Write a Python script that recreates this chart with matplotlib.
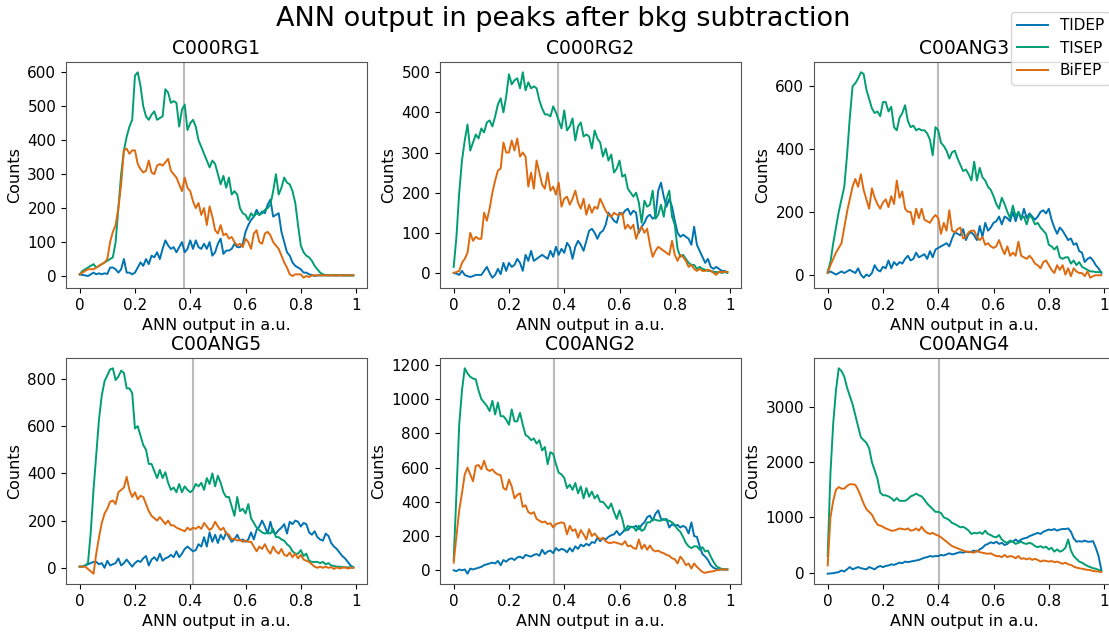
import numpy as np
import matplotlib
matplotlib.use("Agg")
import matplotlib.pyplot as plt

# bin centres of the ANN output histogram
ann = np.arange(100) / 100.0

# ---- C000RG1 ----
rg1_dep = [5, 3, 2, 0, 5, 10, 5, 8, 5, 8,
           6, 25, 25, 20, 10, 20, 50, 10, 10, 5,
           10, 25, 40, 30, 50, 35, 60, 55, 70, 50,
           80, 105, 90, 80, 85, 70, 85, 100, 70, 80,
           105, 80, 105, 85, 80, 95, 80, 100, 60, 70,
           95, 110, 65, 75, 75, 80, 95, 85, 85, 95,
           130, 150, 165, 175, 195, 180, 190, 185, 210, 225,
           175, 180, 185, 130, 100, 70, 60, 40, 30, 25,
           20, 10, 10, 5, 3, 0, 2, 2, 2, 2,
           2, 2, 2, 2, 2, 2, 2, 2, 2, 2]
rg1_sep = [5, 15, 20, 25, 30, 35, 25, 30, 35, 40,
           45, 50, 55, 100, 200, 300, 370, 410, 440, 460,
           590, 600, 560, 500, 470, 460, 475, 485, 460, 465,
           470, 550, 540, 510, 515, 510, 440, 490, 505, 430,
           450, 460, 440, 400, 380, 360, 340, 320, 340, 330,
           300, 270, 295, 260, 290, 240, 250, 240, 200, 185,
           180, 165, 185, 175, 185, 180, 185, 195, 200, 210,
           250, 300, 240, 260, 290, 275, 270, 250, 215, 150,
           90, 70, 60, 55, 45, 30, 20, 10, 5, 3,
           2, 3, 2, 2, 3, 2, 2, 2, 2, 2]
rg1_fep = [5, 10, 15, 20, 20, 20, 25, 30, 35, 40,
           50, 100, 130, 150, 200, 270, 370, 375, 360, 370,
           370, 330, 315, 305, 310, 340, 305, 300, 325, 330,
           325, 335, 345, 310, 300, 290, 270, 250, 290, 260,
           250, 220, 200, 215, 180, 200, 150, 205, 175, 135,
           125, 150, 120, 125, 110, 115, 100, 90, 95, 85,
           110, 100, 80, 125, 135, 100, 95, 125, 130, 120,
           100, 90, 80, 60, 40, 25, 5, 0, 5, 5,
           5, -5, 0, -3, 2, 2, 2, 2, 2, 2,
           2, 2, 2, 2, 2, 2, 2, 2, 2, 2]

# ---- C000RG2 ----
rg2_dep = [0, -2, -5, 5, -5, -8, -10, -8, -5, -5,
           -5, 5, 15, 0, -12, -5, 10, -3, 25, 5,
           25, 15, 20, 35, 25, 5, 45, 30, 55, 30,
           35, 40, 45, 40, 35, 55, 40, 65, 45, 60,
           50, 75, 65, 35, 65, 80, 70, 55, 80, 105,
           110, 100, 85, 100, 105, 120, 150, 140, 130, 125,
           150, 145, 155, 160, 145, 155, 150, 100, 115, 125,
           140, 145, 135, 140, 205, 225, 190, 165, 185, 165,
           130, 100, 90, 95, 90, 85, 70, 115, 70, 55,
           40, 25, 35, 15, 10, 15, 10, 5, 5, 2]
rg2_sep = [15, 90, 200, 280, 330, 370, 305, 325, 345, 335,
           360, 350, 375, 380, 365, 390, 420, 435, 400, 440,
           495, 470, 480, 485, 460, 500, 455, 475, 460, 465,
           460, 430, 410, 395, 395, 390, 415, 400, 380, 360,
           405, 355, 365, 385, 330, 365, 375, 340, 345, 340,
           310, 355, 335, 325, 290, 310, 280, 295, 250, 260,
           280, 240, 245, 210, 200, 190, 200, 175, 125, 180,
           165, 170, 205, 135, 145, 170, 140, 185, 205, 140,
           120, 60, 40, 45, 35, 25, 20, 20, 10, 15,
           10, 8, 5, 5, 3, 2, 2, 0, 2, 0]
rg2_fep = [0, 2, 5, 25, 35, 50, 100, 80, 90, 85,
           85, 150, 130, 160, 200, 230, 255, 260, 325, 300,
           300, 330, 305, 335, 290, 300, 290, 215, 250, 210,
           280, 250, 220, 210, 250, 205, 215, 195, 225, 165,
           185, 190, 170, 185, 205, 175, 160, 185, 145, 170,
           150, 165, 160, 185, 170, 155, 145, 140, 150, 145,
           145, 150, 110, 120, 110, 120, 85, 105, 115, 100,
           110, 70, 40, 55, 65, 60, 55, 50, 45, 80,
           45, 30, 45, 40, 30, 15, 20, 10, 5, 10,
           5, 5, 8, 5, 0, -5, 3, 2, 3, 2]

# ---- C00ANG3 ----
ang3_dep = [5, 10, 5, 0, 5, 10, 5, 10, 15, 10,
            5, 20, 0, -10, 0, -5, 5, 30, 15, 10,
            25, 20, 45, 20, 40, 30, 40, 35, 50, 60,
            45, 50, 70, 55, 60, 65, 50, 75, 55, 80,
            85, 90, 95, 100, 90, 115, 135, 130, 125, 145,
            110, 130, 135, 125, 110, 155, 120, 165, 140, 150,
            165, 170, 185, 160, 185, 180, 170, 200, 170, 200,
            175, 210, 180, 195, 185, 175, 185, 200, 205, 195,
            210, 175, 150, 130, 150, 140, 125, 110, 115, 95,
            100, 75, 70, 40, 50, 55, 45, 30, 20, 5]
ang3_sep = [10, 40, 100, 150, 200, 240, 280, 380, 500, 600,
            610, 625, 645, 640, 590, 560, 530, 515, 520, 505,
            550, 550, 520, 535, 470, 460, 500, 515, 540, 490,
            470, 475, 460, 465, 460, 460, 450, 430, 380, 470,
            460, 420, 410, 395, 370, 390, 395, 370, 350, 330,
            335, 320, 300, 360, 300, 340, 310, 300, 280, 270,
            250, 225, 210, 245, 225, 200, 180, 220, 185, 200,
            180, 185, 160, 190, 180, 160, 165, 150, 140, 130,
            95, 90, 80, 90, 55, 50, 55, 55, 35, 45,
            30, 40, 25, 20, 15, 10, 10, 8, 8, 8]
ang3_fep = [5, 30, 50, 70, 85, 100, 150, 200, 240, 280,
            305, 280, 320, 270, 240, 210, 275, 245, 225, 210,
            230, 240, 215, 250, 225, 300, 245, 265, 210, 200,
            200, 160, 210, 180, 210, 175, 170, 165, 180, 190,
            180, 130, 165, 140, 205, 140, 135, 145, 150, 115,
            120, 135, 140, 140, 120, 110, 120, 95, 100, 90,
            85, 90, 110, 85, 65, 90, 60, 70, 60, 105,
            60, 55, 50, 60, 50, 35, 30, 20, 40, 45,
            30, 15, 5, 30, 15, 30, 0, 20, -5, 20,
            10, 5, 5, -5, 10, -10, -5, -2, -2, -2]

# ---- C00ANG5 ----
ang5_dep = [5, 5, 10, 15, 20, 25, 25, 15, 20, 0,
            30, 10, 15, 20, 40, 10, 20, 35, 20, 5,
            20, 30, 25, 40, 50, 10, 35, 45, 30, 60,
            30, 40, 45, 55, 45, 70, 45, 60, 80, 90,
            80, 70, 75, 100, 90, 130, 90, 150, 110, 140,
            105, 140, 120, 150, 130, 110, 120, 140, 115, 120,
            110, 120, 150, 120, 160, 175, 200, 175, 145, 195,
            150, 145, 160, 170, 185, 145, 195, 185, 200, 195,
            175, 190, 185, 150, 140, 155, 130, 120, 115, 145,
            135, 105, 90, 80, 65, 50, 40, 25, 10, 2]
ang5_sep = [5, 5, 10, 20, 150, 330, 480, 630, 730, 790,
            815, 840, 845, 795, 810, 835, 825, 760, 760, 740,
            590, 600, 560, 520, 500, 440, 440, 410, 380, 415,
            380, 405, 360, 330, 340, 320, 355, 320, 345, 330,
            320, 330, 355, 345, 360, 330, 380, 355, 400, 345,
            390, 360, 320, 300, 300, 260, 220, 300, 240, 250,
            230, 270, 210, 190, 170, 160, 150, 145, 150, 145,
            165, 130, 130, 120, 115, 100, 90, 70, 60, 60,
            75, 50, 60, 30, 25, 25, 25, 20, 25, 15,
            20, 10, 8, 5, 5, 3, 2, 2, 2, 2]
ang5_fep = [5, 5, 5, -5, -15, -25, 60, 130, 190, 230,
            250, 280, 285, 270, 320, 330, 340, 385, 330, 300,
            320, 290, 305, 300, 270, 240, 220, 210, 200, 215,
            200, 185, 200, 180, 180, 170, 165, 160, 155, 170,
            160, 170, 165, 175, 165, 190, 175, 160, 170, 195,
            175, 160, 170, 145, 140, 120, 125, 115, 120, 110,
            115, 110, 110, 90, 70, 90, 80, 100, 75, 60,
            90, 70, 60, 80, 55, 50, 65, 45, 60, 40,
            55, 35, 30, 25, 15, 5, 0, 5, 0, 5,
            0, 3, -5, 2, -3, 0, 2, -3, 0, 0]

# ---- C00ANG2 ----
ang2_dep = [0, -5, 5, 0, 5, -20, 10, 5, 10, 15,
            20, 30, 35, 40, 45, 40, 55, 30, 60, 50,
            65, 70, 60, 75, 80, 70, 90, 85, 80, 90,
            95, 85, 120, 95, 110, 115, 100, 130, 115, 125,
            120, 105, 130, 110, 140, 125, 150, 140, 155, 145,
            165, 160, 190, 170, 190, 180, 195, 205, 210, 230,
            205, 220, 240, 235, 255, 250, 260, 240, 265, 280,
            310, 320, 290, 330, 350, 300, 295, 300, 250, 270,
            260, 265, 250, 260, 250, 215, 280, 200, 195, 140,
            95, 80, 60, 30, 15, 8, 5, 5, 5, 5]
ang2_sep = [60, 450, 850, 1050, 1180, 1150, 1130, 1120, 1115, 1050,
            1000, 980, 960, 930, 990, 910, 980, 900, 900, 880,
            850, 940, 870, 870, 920, 850, 790, 780, 760, 770,
            740, 760, 700, 720, 620, 690, 680, 620, 570, 560,
            540, 480, 500, 470, 510, 450, 490, 420, 480, 430,
            460, 420, 440, 400, 400, 380, 360, 390, 340, 300,
            350, 300, 230, 260, 250, 255, 230, 260, 230, 240,
            280, 280, 300, 295, 290, 290, 300, 290, 290, 280,
            265, 240, 225, 195, 160, 140, 130, 140, 140, 120,
            135, 110, 115, 80, 50, 25, 15, 8, 5, 5]
ang2_fep = [45, 200, 350, 450, 560, 600, 560, 520, 610, 615,
            590, 640, 590, 580, 590, 570, 560, 555, 480, 470,
            530, 490, 420, 440, 450, 370, 380, 340, 330, 340,
            300, 290, 280, 285, 270, 275, 250, 270, 275, 280,
            275, 210, 260, 230, 240, 190, 235, 210, 180, 240,
            200, 215, 195, 180, 190, 170, 160, 160, 165, 160,
            155, 150, 170, 140, 145, 130, 125, 180, 125, 150,
            120, 145, 120, 110, 115, 105, 100, 90, 85, 70,
            65, 40, 80, 60, 30, 40, 10, 40, 20, 5,
            -10, -15, -10, -8, -5, 0, 2, 5, 5, 5]

# ---- C00ANG4 ----
ang4_dep = [-20, -15, -10, 0, 10, 40, 20, 60, 100, 60,
            80, 100, 80, 70, 60, 100, 80, 60, 100, 120,
            100, 120, 130, 150, 140, 160, 180, 170, 200, 190,
            200, 210, 220, 230, 250, 270, 280, 300, 290, 300,
            300, 320, 310, 330, 350, 330, 340, 360, 370, 360,
            380, 370, 380, 400, 380, 420, 450, 500, 520, 550,
            530, 560, 520, 540, 500, 520, 560, 560, 600, 560,
            600, 620, 630, 660, 680, 700, 720, 700, 740, 760,
            780, 770, 790, 760, 780, 790, 790, 800, 740, 620,
            560, 570, 560, 580, 560, 560, 570, 450, 300, 50]
ang4_sep = [300, 1800, 2700, 3300, 3700, 3650, 3550, 3350, 3200, 3050,
            2850, 2650, 2450, 2400, 2350, 2250, 2000, 1850, 1700, 1450,
            1400, 1400, 1380, 1350, 1300, 1350, 1300, 1300, 1300, 1330,
            1380, 1400, 1430, 1400, 1380, 1320, 1250, 1200, 1150, 1100,
            1100, 1080, 1000, 980, 950, 900, 880, 850, 820, 830,
            800, 760, 700, 720, 710, 730, 700, 760, 700, 680,
            650, 640, 680, 600, 560, 540, 580, 560, 520, 540,
            560, 530, 520, 540, 520, 480, 460, 480, 450, 470,
            420, 450, 380, 420, 380, 400, 450, 600, 400, 300,
            250, 200, 180, 150, 120, 100, 80, 70, 50, 30]
ang4_fep = [130, 1000, 1300, 1500, 1550, 1520, 1520, 1570, 1600, 1600,
            1590, 1500, 1380, 1250, 1150, 1100, 1050, 950, 870, 850,
            830, 800, 780, 760, 760, 780, 800, 790, 780, 800,
            760, 770, 800, 760, 830, 760, 720, 700, 720, 690,
            670, 640, 600, 560, 520, 480, 460, 440, 420, 400,
            380, 380, 370, 360, 400, 370, 360, 350, 340, 350,
            320, 300, 300, 280, 320, 280, 300, 290, 260, 300,
            250, 260, 240, 260, 230, 250, 230, 200, 220, 210,
            200, 210, 190, 200, 180, 160, 180, 150, 140, 110,
            90, 80, 70, 60, 50, 45, 30, 25, 20, 10]

titles = ["C000RG1", "C000RG2", "C00ANG3", "C00ANG5", "C00ANG2", "C00ANG4"]
cuts = [0.378, 0.378, 0.398, 0.41, 0.362, 0.402]
dep = [rg1_dep, rg2_dep, ang3_dep, ang5_dep, ang2_dep, ang4_dep]
sep = [rg1_sep, rg2_sep, ang3_sep, ang5_sep, ang2_sep, ang4_sep]
fep = [rg1_fep, rg2_fep, ang3_fep, ang5_fep, ang2_fep, ang4_fep]
labels = ["TlDEP", "TlSEP", "BiFEP"]
colors = ["#0173b2", "#029e73", "#de6a10"]

W, H = 1109, 632
fig = plt.figure(figsize=(W / 100, H / 100), dpi=100)

lefts = [66, 440, 814]
tops = [62, 358]
aw, ah = 301, 226

for i in range(6):
    r, c = divmod(i, 3)
    ax = fig.add_axes([lefts[c] / W, 1 - (tops[r] + ah) / H, aw / W, ah / H])
    ax.axvline(cuts[i], color="#bbbbbb", lw=1.5)
    l1, = ax.plot(ann, dep[i], color=colors[0], lw=1.4, label=labels[0])
    l2, = ax.plot(ann, sep[i], color=colors[1], lw=1.4, label=labels[1])
    l3, = ax.plot(ann, fep[i], color=colors[2], lw=1.4, label=labels[2])
    ax.set_title(titles[i], fontsize=13.5)
    ax.set_xlabel("ANN output in a.u.", fontsize=11.5)
    ax.set_ylabel("Counts", fontsize=11.5)
    ax.set_xticks([0, 0.2, 0.4, 0.6, 0.8, 1])
    ax.set_xticklabels(["0", "0.2", "0.4", "0.6", "0.8", "1"])
    ax.tick_params(labelsize=11)
    for s in ax.spines.values():
        s.set_color("#555555")

fig.text(563 / W, 1 - 19 / H, "ANN output in peaks after bkg subtraction",
         ha="center", va="center", fontsize=19.5)
fig.legend([l1, l2, l3], labels, loc="upper left",
           bbox_to_anchor=(1011 / W, 1 - 12 / H), borderaxespad=0,
           fontsize=11)

fig.savefig("out.png", dpi=100)
